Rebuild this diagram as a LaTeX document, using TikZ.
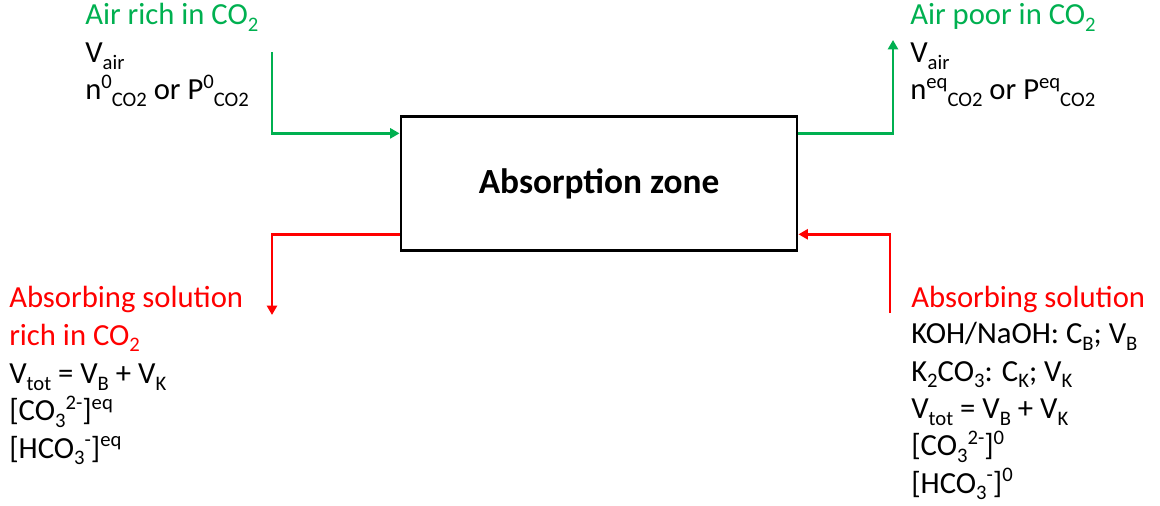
\documentclass[tikz,border=0pt]{standalone}
\usepackage{fontspec}
\setmainfont{Carlito}
\usetikzlibrary{arrows.meta, positioning}
\definecolor{airGreen}{RGB}{0,176,80}
\definecolor{solRed}{RGB}{255,0,0}
\newcommand{\dn}[1]{\raisebox{-0.22em}{\fontsize{15.5}{16}\selectfont #1}}
\newcommand{\up}[1]{\raisebox{0.38em}{\fontsize{15.5}{16}\selectfont #1}}
\tikzstyle{airFlow} = [airGreen, line width=2.2pt,
   -{Triangle[length=7pt,width=7.5pt]}]
\tikzstyle{solFlow} = [solRed, line width=2.2pt,
   -{Triangle[length=7pt,width=7.5pt]}]
% base west of a multi-line node sits on its last line
\tikzstyle{streamText} = [anchor=base west, inner sep=0pt, align=left]

\begin{document}
\begin{tikzpicture}[
  x=0.75pt, y=-0.75pt,
  font=\fontsize{23}{28}\selectfont,
  ]
  \useasboundingbox (0,0) rectangle (1160,506);
  \node[draw,rectangle,line width=2.2pt,minimum width=297pt,minimum height=101pt,
    font=\fontsize{26.5}{30}\selectfont\bfseries] (zone) at (599,183.5) {Absorption zone};
  % gas side
  \node[streamText,airGreen] (airRichTitle) at (85,25) {Air rich in CO\dn{2}};
  \node[streamText] (airRichData) at (85,100) {V\dn{air}\\
    n\up{0}\dn{CO2} or P\up{0}\dn{CO2}};
  \node[streamText,airGreen] (airPoorTitle) at (910,25) {Air poor in CO\dn{2}};
  \node[streamText] (airPoorData) at (910,100) {V\dn{air}\\
    n\up{eq}\dn{CO2} or P\up{eq}\dn{CO2}};
  % liquid side
  \node[streamText,solRed] (solRichTitle) at (9,345) {Absorbing solution\\rich in CO\dn{2}};
  \node[streamText] (solRichData) at (9,458) {V\dn{tot} = V\dn{B} + V\dn{K}\\
    {[}CO\dn{3}\up{2-}]\up{eq}\\
    {[}HCO\dn{3}\up{-}]\up{eq}};
  \node[streamText,solRed] (solFreshTitle) at (911,307) {Absorbing solution};
  \node[streamText] (solFreshData) at (911,493) {KOH/NaOH: C\dn{B}; V\dn{B}\\
    K\dn{2}CO\dn{3}: C\dn{K}; V\dn{K}\\
    V\dn{tot} = V\dn{B} + V\dn{K}\\
    {[}CO\dn{3}\up{2-}]\up{0}\\
    {[}HCO\dn{3}\up{-}]\up{0}};
  \coordinate (airInlet) at (272,52);
  \coordinate (airOutlet) at (893,40);
  \coordinate (solOutlet) at (272,315);
  \coordinate (solInlet) at (890,313);
  \draw[airFlow] (airInlet) |- ([yshift=-14pt]zone.north west);
  \draw[airFlow] ([yshift=-14pt]zone.north east) -| (airOutlet);
  \draw[solFlow] ([yshift=13.5pt]zone.south west) -| (solOutlet);
  \draw[solFlow] (solInlet) |- ([yshift=13.5pt]zone.south east);
\end{tikzpicture}
\end{document}
